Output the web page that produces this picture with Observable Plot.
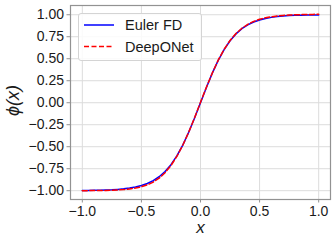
<!DOCTYPE html>
<html>
<head>
<meta charset="utf-8">
<script src="https://cdn.jsdelivr.net/npm/d3@7"></script>
<script src="https://cdn.jsdelivr.net/npm/@observablehq/plot@0.6"></script>
<style>
  html, body { margin: 0; padding: 0; background: white; }
  #wrap { position: relative; width: 335px; height: 243px; font-family: "Liberation Sans", Arial, sans-serif; }
  #legend { position: absolute; left: 78px; top: 13px; width: 122px; height: 46px; border: 1px solid #d4d4d4; border-radius: 3px; background: rgba(255,255,255,0.85); }
  #legend svg { position: absolute; left: 0; top: 0; }
</style>
</head>
<body>
<div id="wrap"></div>
<script>
// Data
const xValues = [-1, -0.95, -0.9, -0.85, -0.8, -0.75, -0.7, -0.65, -0.6, -0.55, -0.5, -0.45, -0.4, -0.35, -0.3, -0.25, -0.2, -0.15, -0.1, -0.05, 0,
                 0.05, 0.1, 0.15, 0.2, 0.25, 0.3, 0.35, 0.4, 0.45, 0.5, 0.55, 0.6, 0.65, 0.7, 0.75, 0.8, 0.85, 0.9, 0.95, 1];
const eulerFD = [-0.998, -0.997, -0.996, -0.995, -0.993, -0.990, -0.985, -0.979, -0.970, -0.958, -0.941, -0.918, -0.885, -0.841, -0.782, -0.704, -0.604, -0.482, -0.336, -0.173, 0.000,
                 0.173, 0.336, 0.482, 0.604, 0.704, 0.782, 0.841, 0.885, 0.918, 0.941, 0.958, 0.970, 0.979, 0.985, 0.990, 0.993, 0.995, 0.996, 0.997, 0.998];
const deepONet = [-1.000, -0.999, -0.999, -0.998, -0.997, -0.995, -0.992, -0.987, -0.980, -0.970, -0.955, -0.934, -0.902, -0.858, -0.796, -0.714, -0.610, -0.484, -0.336, -0.170, 0.005,
                  0.176, 0.338, 0.484, 0.607, 0.707, 0.786, 0.846, 0.891, 0.924, 0.948, 0.965, 0.977, 0.986, 0.992, 0.996, 0.999, 1.001, 1.003, 1.004, 1.005];
const xTicks = [-1.0, -0.5, 0.0, 0.5, 1.0];
const yTicks = [-1.0, -0.75, -0.5, -0.25, 0.0, 0.25, 0.5, 0.75, 1.0];
const seriesNames = ["Euler FD", "DeepONet"];
const seriesColors = ["#0000ff", "#ff0000"];

const euler = xValues.map((x, i) => ({x, y: eulerFD[i]}));
const deep = xValues.map((x, i) => ({x, y: deepONet[i]}));
const minus = s => s.replace("-", "\u2212");

const chart = Plot.plot({
  width: 335,
  height: 243,
  marginLeft: 70,
  marginRight: 5,
  marginTop: 5,
  marginBottom: 44,
  style: {fontFamily: "'Liberation Sans', Arial, sans-serif", fontSize: "14px", color: "#1a1a1a", background: "white"},
  x: {domain: [-1.1, 1.1]},
  y: {domain: [-1.1, 1.105]},
  marks: [
    Plot.gridX(xTicks, {stroke: "#dcdcdc", strokeOpacity: 1, strokeWidth: 1}),
    Plot.gridY(yTicks, {stroke: "#dcdcdc", strokeOpacity: 1, strokeWidth: 1}),
    Plot.frame({stroke: "#929292", strokeWidth: 1.2}),
    Plot.line(euler, {x: "x", y: "y", stroke: seriesColors[0], strokeWidth: 1.5}),
    Plot.line(deep, {x: "x", y: "y", stroke: seriesColors[1], strokeWidth: 1.5, strokeDasharray: "5,2.5"}),
    Plot.axisX(xTicks, {tickSize: 3.5, tickPadding: 3, stroke: "#929292", fill: "#1a1a1a", tickFormat: d => minus(d.toFixed(1)), label: null, fontSize: 14}),
    Plot.axisY(yTicks, {tickSize: 3.5, tickPadding: 3, stroke: "#929292", fill: "#1a1a1a", tickFormat: d => minus(d.toFixed(2)), label: null, fontSize: 14}),
    Plot.text(["x"], {frameAnchor: "bottom", lineAnchor: "middle", textAnchor: "middle", dy: 28, fontStyle: "italic", fontSize: 17, fill: "#1a1a1a"}),
    Plot.text(["\u03d5(x)"], {frameAnchor: "left", lineAnchor: "middle", textAnchor: "middle", dx: -57, dy: -2, rotate: -90, fontStyle: "italic", fontSize: 18, fill: "#1a1a1a"})
  ]
});

const wrap = document.getElementById("wrap");
wrap.appendChild(chart);

// Legend
const legend = document.createElement("div");
legend.id = "legend";
const ns = "http://www.w3.org/2000/svg";
const svg = document.createElementNS(ns, "svg");
svg.setAttribute("width", 122);
svg.setAttribute("height", 46);
seriesNames.forEach((name, i) => {
  const yy = 11 + i * 21.5;
  const ln = document.createElementNS(ns, "line");
  ln.setAttribute("x1", 5); ln.setAttribute("x2", 35);
  ln.setAttribute("y1", yy); ln.setAttribute("y2", yy);
  ln.setAttribute("stroke", seriesColors[i]);
  ln.setAttribute("stroke-width", 1.5);
  if (i === 1) ln.setAttribute("stroke-dasharray", "5,2.5");
  svg.appendChild(ln);
  const t = document.createElementNS(ns, "text");
  t.setAttribute("x", 46); t.setAttribute("y", yy);
  t.setAttribute("dy", "0.35em");
  t.setAttribute("font-size", 14.5);
  t.setAttribute("fill", "#1a1a1a");
  t.setAttribute("font-family", "'Liberation Sans', Arial, sans-serif");
  t.textContent = name;
  svg.appendChild(t);
});
legend.appendChild(svg);
wrap.appendChild(legend);
</script>
</body>
</html>
